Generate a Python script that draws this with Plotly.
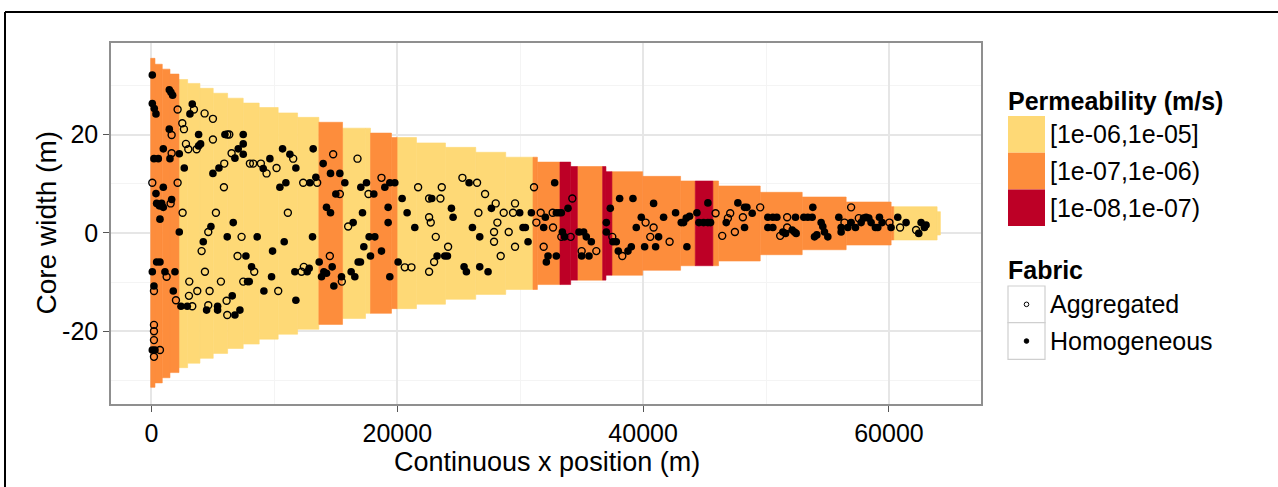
import plotly.graph_objects as go

# ---------------- Core band segments ----------------
seg_x0 = [-65, 285, 878, 1504, 2236, 2943, 3943, 5024, 6195, 7463, 8764, 10309, 11886,
          13618, 15545, 17415, 17821, 19528, 19984, 21561, 23919, 26382, 28821, 31041,
          31398, 33236, 34106, 34650, 36707, 36976, 37463, 39959, 43049, 44244, 45675,
          46138, 49528, 52943, 56520, 60179, 60390, 63919]
seg_x1 = seg_x0[1:] + [64187]
seg_top = [35.5, 34.3, 33.3, 32.3, 31.2, 30.4, 29.4, 28.4, 27.4, 26.4, 25.5, 24.4, 23.5,
           22.5, 21.3, 21.3, 20.3, 19.4, 19.4, 18.3, 17.4, 16.4, 15.4, 15.4,
           14.4, 14.4, 13.5, 13.5, 13.5, 12.45, 12.45, 11.5, 10.56, 10.56, 10.56,
           9.54, 8.26, 7.3, 6.28, 5.33, 5.33, 4.31]
seg_bot = [-31.4, -30.5, -29.45, -28.4, -27.4, -26.5, -25.5, -24.5, -23.5, -22.6, -21.6, -20.6, -19.6,
           -18.6, -17.4, -16.35, -16.35, -15.4, -15.4, -14.5, -13.5, -12.5, -11.5, -11.5,
           -10.5, -10.5, -9.6, -9.6, -9.6, -8.6, -8.6, -7.6, -6.67, -6.67, -6.67,
           -5.71, -4.43, -3.42, -2.46, -1.44, -1.44, -0.43]
Y, O, R = "[1e-06,1e-05]", "[1e-07,1e-06)", "[1e-08,1e-07)"
seg_perm = [O, O, O, O, Y, Y, Y, Y, Y, Y, Y, Y, Y,
            O, Y, Y, O, O, Y, Y, Y, Y, Y, O,
            O, R, R, O, R, R, O, O, O, R, O,
            O, O, O, O, O, Y, Y]

perm_levels = [Y, O, R]
perm_colors = ["#FED976", "#FD8D3C", "#BD0026"]

# ---------------- Samples ----------------
agg_x = [2127, 3455, 2507, 2642, 4322, 5000, 1640, 5000, 6165, 6330, 2805, 2995, 3672, 1640,
         6518, 11531, 14783, 16761, 5921, 8008, 8279, 8902, 9363, 10176, 68, 2127, 5894, 12344,
         13482, 15325, 17656, 18713, 1558, 2534, 5244, 11097, 4621, 4079, 7331, 7005, 1233, 203,
         1992, 3320, 3076, 3049, 3726, 4729, 4350, 5650, 8360, 7466, 10312, 12209, 12398, 4621,
         6111, 6165, 14512, 15488, 16003, 203, 203, 203, 691, 203, 21694, 22588, 23509, 23618,
         25298, 26490, 27141, 28008, 29580, 31124, 34241, 22588, 22723, 23130, 24133, 20610,
         21152, 22994, 22588, 26599, 28143, 27872, 27872, 28658, 29417, 29065, 28414, 29580,
         31666, 31314, 32669, 32642, 31910, 33346, 34105, 35000, 36192, 37493, 38306, 40203,
         40853, 40582, 42154, 45894, 46436, 46897, 47086, 47466, 48116, 49525, 51151, 51720,
         51720, 56382, 56924, 57547, 60040, 60907, 62208]
agg_y = [25.1, 25.1, 22.3, 21.1, 24.3, 23.2, 19.9, 19.0, 20.0, 20.0, 18.1, 17.0, 17.0, 16.2,
         16.2, 15.1, 16.0, 15.1, 14.1, 14.1, 14.1, 14.1, 12.1, 13.2, 10.2, 10.2, 9.3, 10.2,
         10.2, 7.9, 7.9, 11.2, 6.0, 4.1, 4.1, 4.1, 0.2, -3.7, -0.8, -4.7, -8.9, -11.8,
         -13.7, -14.9, -9.9, -12.8, -11.8, -11.8, -7.9, -9.9, -7.9, -9.9, -11.8, -7.9, -6.9, -14.7,
         -13.8, -16.7, -4.7, -9.9, 1.3, -18.7, -20.0, -21.8, -23.8, -25.2, 9.3, 7.0, 7.0, 9.3,
         11.2, 10.2, 7.9, 6.0, 6.0, 9.3, 7.0, 3.2, 2.1, -0.8, -2.8, -7.0,
         -7.0, -5.9, -7.9, 4.1, 2.1, 0.2, -1.8, 4.1, 4.1, 0.2, -4.7, -2.8,
         4.1, 2.1, 1.1, 4.1, -2.8, -0.8, -0.8, -3.7, -3.7, -0.8, -4.7, 2.1,
         1.1, -0.8, -1.8, 4.0, -0.6, 3.0, 4.0, 0.2, 3.2, 5.2, -0.6, 1.1,
         3.2, 2.1, 5.2, 3.0, 2.1, 1.1, 0.6]

hom_x = [68, 68, 230, 366, 1450, 1585, 1721, 3320, 3130, 1450, 3835, 5976, 7466, 3997, 3835,
         7466, 7060, 7466, 962, 1504, 2263, 203, 556, 6789, 10664, 11260, 13157, 5488, 5000,
         9092, 9634, 11748, 2669, 962, 366, 1640, 10447, 10935, 12886, 13374, 13970, 14566,
         15325, 15000, 15732, 17032, 17493, 18089, 18984, 19390, 19797, 420, 637, 827, 962,
         691, 2263, 4837, 6653, 4214, 6165, 8604, 10799, 13103, 9851, 7683, 420, 691, 68,
         1098, 1911, 203, 1775, 2398, 2913, 8144, 7818, 7954, 9770, 9146, 11667, 12669, 12832,
         11748, 4485, 5379, 5379, 6572, 6789, 7195, 13645, 13835, 14024, 14241, 14702, 14837,
         15461, 16246, 16545, 14241, 14566, 17168, 16409, 17276, 16816, 17005, 17710, 18171,
         18713, 17818, 19255, 19255, 19390, 20068, 68, 285, 20393, 22805, 24404, 25840, 27656,
         32805, 33889, 38089, 39173, 40853, 37330, 20799, 21423, 24539, 23238, 23862, 24078,
         25433, 25623, 26111, 26707, 26707, 27385, 29959, 30908, 30230, 30420, 30637, 32046,
         31910, 32940, 33157, 33346, 32263, 32127, 32940, 33428, 33617, 34783, 35162, 35379,
         35786, 35000, 35596, 37005, 37005, 37547, 37818, 37981, 38767, 39038, 39444, 39851,
         40122, 41260, 41016, 41666, 42642, 43563, 43103, 43292, 43509, 43780, 44376, 44539,
         44918, 45271, 45487, 45271, 46761, 47710, 48252, 48441, 48875, 48252, 50149, 50555,
         50880, 50149, 50555, 51368, 51585, 52398, 52127, 52317, 52452, 53075, 53401, 53753,
         53807, 53943, 54132, 54485, 54620, 54756, 55027, 55921, 56111, 56111, 56653, 56924,
         57276, 57737, 57926, 58143, 58360, 58550, 58902, 59092, 59227, 59444, 60175, 60718,
         61395, 62425, 62615, 62886, 63021]
hom_y = [32.1, 26.3, 25.3, 24.2, 29.1, 28.6, 28.0, 26.2, 24.2, 21.1, 20.0, 20.0, 20.0, 18.1, 17.7,
         18.1, 17.1, 16.0, 17.1, 15.1, 16.1, 15.1, 15.1, 15.2, 17.1, 16.0, 17.1, 13.2, 12.1,
         13.1, 15.1, 13.2, 13.2, 9.3, 8.0, 6.8, 9.3, 10.2, 10.2, 11.3, 14.1, 12.1,
         12.1, 7.9, 10.2, 9.3, 10.2, 7.9, 9.3, 10.2, 10.2, 6.0, 5.5, 6.0, 5.2,
         2.8, 0.2, 1.3, 2.1, -1.8, -0.8, -0.8, -1.8, -0.8, -3.7, -4.7, -5.9, -5.9, -7.9,
         -7.9, -7.9, -10.8, -11.8, -14.9, -14.9, -6.9, -9.9, -9.9, -8.9, -11.8, -7.9, -7.9, -7.2,
         -13.7, -15.7, -14.9, -15.7, -12.8, -16.7, -15.7, -5.9, -8.9, -7.9, -8.2, -6.9, -10.8,
         -8.9, -7.9, -8.9, 5.2, 4.1, 4.1, 2.1, -2.8, -5.9, -5.9, -0.8, -0.8,
         -3.7, -4.7, 5.2, 2.1, -8.9, -5.9, -23.8, -23.8, 7.0, 7.0, 5.0, 10.2, 5.0,
         10.2, 5.0, 7.0, 7.0, 6.0, 5.0, 4.1, 1.1, 3.2, -4.7, -4.7, -4.7,
         -6.9, -7.9, 1.1, -0.8, -6.9, -7.9, 4.1, 4.1, 1.1, 1.1, -1.8, 3.2,
         1.1, 4.1, 4.1, 4.1, -4.7, -5.9, -4.7, 0.2, -0.8, 0.2, 0.2, -0.8,
         -1.8, -4.7, -4.7, 2.1, 0.2, -1.8, -1.8, -3.7, -3.7, -2.8, 1.1, 3.2,
         -2.8, -0.8, -2.8, 3.2, 4.1, -2.8, 2.1, 2.1, 3.0, 3.4, 4.1, 2.1,
         2.1, 2.1, 2.1, 6.1, 2.1, 6.1, 5.2, 5.2, 4.0, 1.1, 3.2, 3.2,
         3.2, 1.1, 1.1, 0.2, -0.1, 3.2, 0.6, 0.2, -0.1, 3.2, 3.2, 3.2,
         5.2, -0.8, -0.4, 2.1, 1.3, 0.2, -0.8, 3.2, 1.1, 0.2, 1.1, 2.1,
         1.1, 2.1, 3.0, 3.2, 3.0, 2.1, 1.1, 1.1, 3.2, 2.1, 1.1, 3.2,
         2.1, -0.1, 2.1, 1.1, 1.6]

x_ticks = [0, 20000, 40000, 60000]
y_ticks = [-20, 0, 20]
x_title = "Continuous x position (m)"
y_title = "Core width (m)"
fill_title = "Permeability (m/s)"
shape_title = "Fabric"
shape_levels = ["Aggregated", "Homogeneous"]

# ---------------- Figure ----------------
W, H = 1278, 487
ML, MR, MT, MB = 111, 297, 43, 83
PW, PH = W - ML - MR, H - MT - MB


def PX(px):
    return (px - ML) / PW


def PY(py):
    return (H - MB - py) / PH


FONT = "Liberation Sans, Arial, sans-serif"
fig = go.Figure()

for lvl, col in zip(perm_levels, perm_colors):
    idx = [i for i, p in enumerate(seg_perm) if p == lvl]
    fig.add_trace(go.Bar(
        x=[(seg_x0[i] + seg_x1[i]) / 2 for i in idx],
        width=[seg_x1[i] - seg_x0[i] for i in idx],
        base=[seg_bot[i] for i in idx],
        y=[seg_top[i] - seg_bot[i] for i in idx],
        marker=dict(color=col, line=dict(color=col, width=0.6)),
        showlegend=False, hoverinfo="skip"))

fig.add_trace(go.Scatter(x=agg_x, y=agg_y, mode="markers", showlegend=False,
                         marker=dict(symbol="circle-open", size=7, color="black",
                                     line=dict(width=1.4, color="black"))))
fig.add_trace(go.Scatter(x=hom_x, y=hom_y, mode="markers", showlegend=False,
                         marker=dict(symbol="circle", size=7.6, color="black")))

axis_common = dict(showgrid=True, gridcolor="#E6E6E6", gridwidth=1.5, zeroline=False,
                   showline=True, linecolor="#8F8F8F", linewidth=1.5, mirror=True,
                   ticks="outside", ticklen=6, tickwidth=1.2, tickcolor="#555555",
                   tickfont=dict(family=FONT, size=25, color="black"))
fig.update_xaxes(range=[-3293, 67490], tickmode="array", tickvals=x_ticks,
                 ticktext=[str(v) for v in x_ticks],
                 minor=dict(dtick=10000, showgrid=True, gridcolor="#F4F4F4", gridwidth=1),
                 **axis_common)
fig.update_yaxes(range=[-34.79, 38.62], tickmode="array", tickvals=y_ticks,
                 ticktext=[str(v) for v in y_ticks],
                 minor=dict(dtick=10, tick0=0, showgrid=True, gridcolor="#F4F4F4", gridwidth=1),
                 **axis_common)

shapes = []
annotations = []
# outer frame (top and left edges visible)
shapes.append(dict(type="line", xref="paper", yref="paper", x0=PX(5), x1=PX(5), y0=PY(12), y1=PY(500),
                   line=dict(color="black", width=2)))
shapes.append(dict(type="line", xref="paper", yref="paper", x0=PX(5), x1=PX(1300), y0=PY(12), y1=PY(12),
                   line=dict(color="black", width=2)))

# axis titles
annotations.append(dict(text=x_title, xref="paper", yref="paper", x=PX(546.5), y=PY(462),
                        xanchor="center", yanchor="middle", showarrow=False,
                        font=dict(family=FONT, size=27, color="black")))
annotations.append(dict(text=y_title, xref="paper", yref="paper", x=PX(46), y=PY(222.5),
                        xanchor="center", yanchor="middle", showarrow=False, textangle=-90,
                        font=dict(family=FONT, size=28, color="black")))

# legend: permeability
KX0, KX1, KH = 1008, 1045, 36.7
LEG = 25
annotations.append(dict(text="<b>" + fill_title + "</b>", xref="paper", yref="paper", x=PX(1006),
                        y=PY(101), xanchor="left", yanchor="middle", showarrow=False,
                        font=dict(family=FONT, size=LEG, color="black")))
for i, (lvl, col) in enumerate(zip(perm_levels, perm_colors)):
    top = 116 + KH * i
    shapes.append(dict(type="rect", xref="paper", yref="paper", x0=PX(KX0), x1=PX(KX1),
                       y0=PY(top + KH), y1=PY(top), fillcolor=col, line=dict(width=0)))
    annotations.append(dict(text=lvl, xref="paper", yref="paper", x=PX(1048), y=PY(top + KH / 2),
                            xanchor="left", yanchor="middle", showarrow=False,
                            font=dict(family=FONT, size=LEG, color="black")))

# legend: fabric
annotations.append(dict(text="<b>" + shape_title + "</b>", xref="paper", yref="paper", x=PX(1006),
                        y=PY(270), xanchor="left", yanchor="middle", showarrow=False,
                        font=dict(family=FONT, size=LEG, color="black")))
for i, lvl in enumerate(shape_levels):
    top = 286 + KH * i
    shapes.append(dict(type="rect", xref="paper", yref="paper", x0=PX(KX0), x1=PX(KX1),
                       y0=PY(top + KH), y1=PY(top), fillcolor="white",
                       line=dict(color="#CFCFCF", width=1.2)))
    cx, cy = (KX0 + KX1) / 2, top + KH / 2
    shapes.append(dict(type="circle", xref="paper", yref="paper", x0=PX(cx - 2.3), x1=PX(cx + 2.3),
                       y0=PY(cy + 2.3), y1=PY(cy - 2.3),
                       fillcolor="white" if i == 0 else "black",
                       line=dict(color="black", width=1)))
    annotations.append(dict(text=lvl, xref="paper", yref="paper", x=PX(1048), y=PY(cy),
                            xanchor="left", yanchor="middle", showarrow=False,
                            font=dict(family=FONT, size=LEG, color="black")))

fig.update_layout(width=W, height=H, margin=dict(l=ML, r=MR, t=MT, b=MB, autoexpand=False),
                  paper_bgcolor="white", plot_bgcolor="white", barmode="overlay",
                  showlegend=False, shapes=shapes, annotations=annotations,
                  font=dict(family=FONT, color="black"))

fig.write_html("out.html")
